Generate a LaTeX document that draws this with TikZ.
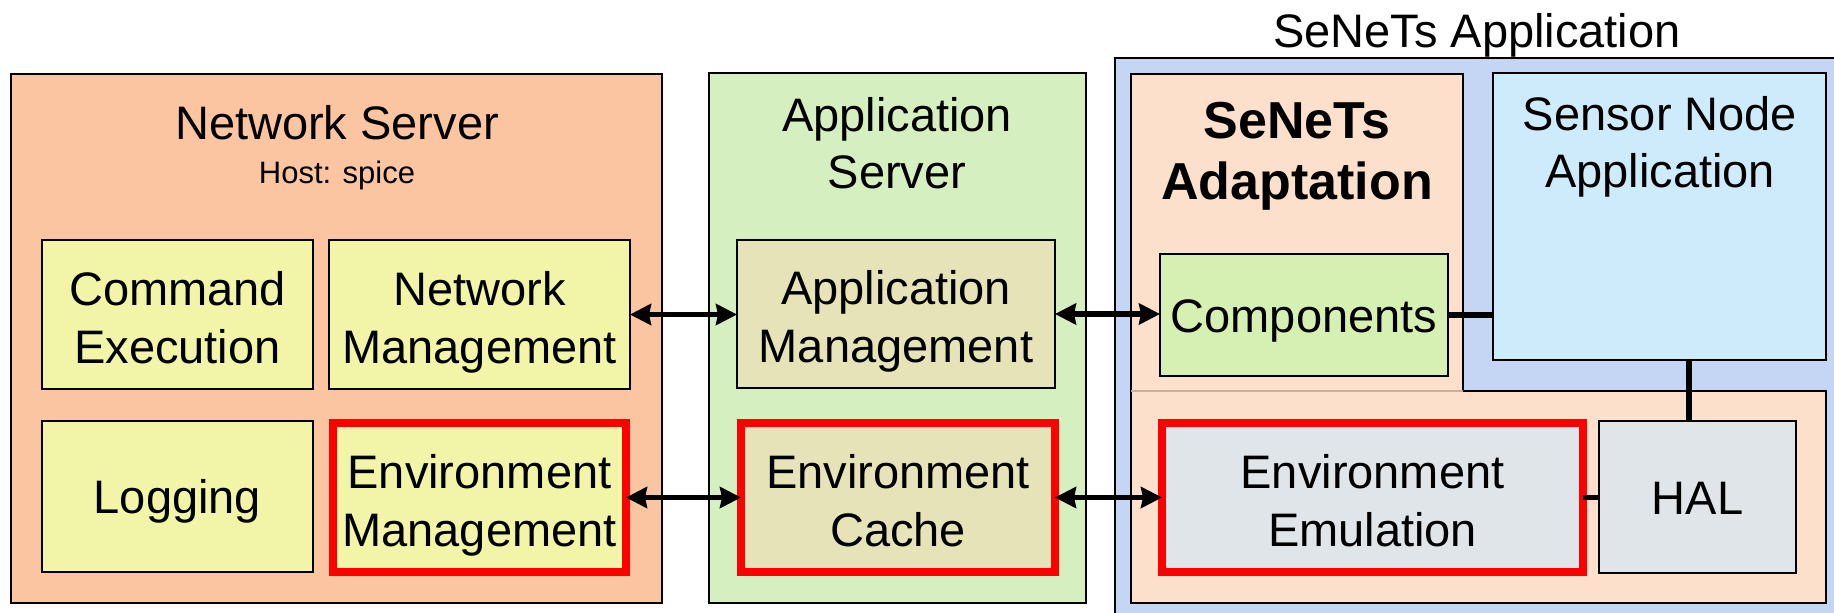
\documentclass[tikz,border=0pt]{standalone}
\usepackage{fontspec}
\setmainfont{Liberation Sans}
\usetikzlibrary{arrows.meta}
\definecolor{nsfill}{RGB}{252,197,162}
\definecolor{yelfill}{RGB}{242,245,168}
\definecolor{asfill}{RGB}{214,239,192}
\definecolor{khfill}{RGB}{230,227,184}
\definecolor{bluefill}{RGB}{197,214,244}
\definecolor{peachfill}{RGB}{252,224,203}
\definecolor{compfill}{RGB}{213,240,178}
\definecolor{snfill}{RGB}{205,235,251}
\definecolor{grayfill}{RGB}{223,229,232}
\definecolor{seamcol}{RGB}{200,175,160}
\begin{document}
\begin{tikzpicture}[x=1pt,y=-1pt,
  every node/.style={inner sep=0pt, outer sep=0pt},
  box/.style={draw=black, line width=2pt, anchor=north west, align=center,
    font=\fontsize{47}{58}\selectfont, text height=107pt, text depth=10pt},
  oneline/.style={text height=34pt, text depth=0pt},
  emptybox/.style={text height=0pt, text depth=0pt},
  redbox/.style={box, draw=red, line width=7.7pt},
  title/.style={align=center, font=\fontsize{47}{57}\selectfont},
  smalltitle/.style={font=\fontsize{31}{36}\selectfont},
  boldtitle/.style={align=center, font=\fontsize{52}{61}\selectfont\bfseries},
  biarrow/.style={line width=5.5pt, {Stealth[length=21pt,width=21pt,inset=2pt]}-{Stealth[length=21pt,width=21pt,inset=2pt]}},
  link/.style={line width=5.5pt}
]
\useasboundingbox (0,0) rectangle (1834,613);
\clip (0,0) rectangle (1834,613);

% Network Server
\node[box, emptybox, fill=nsfill, minimum width=651, minimum height=529] (ns) at (11,74) {};
\node[title] (nstitle) at (337,123) {Network Server};
\node[smalltitle] (host) at (337,175) {Host: spice};
\node[box, fill=yelfill, minimum width=271, minimum height=149] (ce) at (42,240) {Command\\Execution};
\node[box, fill=yelfill, minimum width=301, minimum height=149] (nm) at (329,240) {Network\\Management};
\node[box, oneline, fill=yelfill, minimum width=271, minimum height=151] (lg) at (42,421) {Logging};
\node[redbox, fill=yelfill, minimum width=293, minimum height=149] (em) at (333,423) {Environment\\Management};

% Application Server
\node[box, emptybox, fill=asfill, minimum width=377, minimum height=530] (as) at (709,73) {};
\node[title] (astitle) at (897,143) {Application\\Server};
\node[box, fill=khfill, minimum width=318, minimum height=148] (am) at (737,240) {Application\\Management};
\node[redbox, fill=khfill, minimum width=314, minimum height=149] (ec) at (741,423) {Environment\\Cache};

% SeNeTs Application
\node[box, emptybox, fill=bluefill, minimum width=735, minimum height=572] (sa) at (1115,58) {};
\node[title] (satitle) at (1477,35) {SeNeTs Application};
\node[anchor=north west, fill=peachfill, minimum width=332, minimum height=317] (adapt) at (1131,74) {};
\node[anchor=north west, fill=peachfill, minimum width=695, minimum height=212] (low) at (1131,391) {};
\draw[line width=2pt, line join=miter] (adapt.north west) -- (adapt.north east) -- (adapt.south east) -- (low.north east) -- (low.south east) -- (low.south west) -- cycle;
\draw[seamcol, line width=1.5pt] (adapt.south west) -- (adapt.south east);
\node[boldtitle] (adtitle) at (1297,156) {SeNeTs\\Adaptation};
\node[box, oneline, fill=compfill, minimum width=288, minimum height=122] (comp) at (1160,254) {Components};
\node[box, emptybox, fill=snfill, minimum width=333, minimum height=287] (sn) at (1493,73) {};
\node[title] (sntitle) at (1660,147) {Sensor Node\\Application};
\node[redbox, fill=grayfill, minimum width=421, minimum height=149] (ee) at (1162,423) {Environment\\Emulation};
\node[box, oneline, fill=grayfill, minimum width=197, minimum height=152] (hal) at (1599,421) {HAL};

% connectors
\draw[biarrow] (nm.east) -- (am.west |- nm.east);
\draw[biarrow] (em.east) -- (ec.west |- em.east);
\draw[biarrow] (am.east) -- (comp.west |- am.east);
\draw[biarrow] (ec.east) -- (ee.west |- ec.east);
\draw[link] (comp.east) -- (sn.west |- comp.east);
\coordinate (vx) at (1689,0);
\draw[link] (vx |- sn.south) -- (vx |- hal.north);
\draw[link] (ee.east) -- (hal.west |- ee.east);
\end{tikzpicture}
\end{document}
